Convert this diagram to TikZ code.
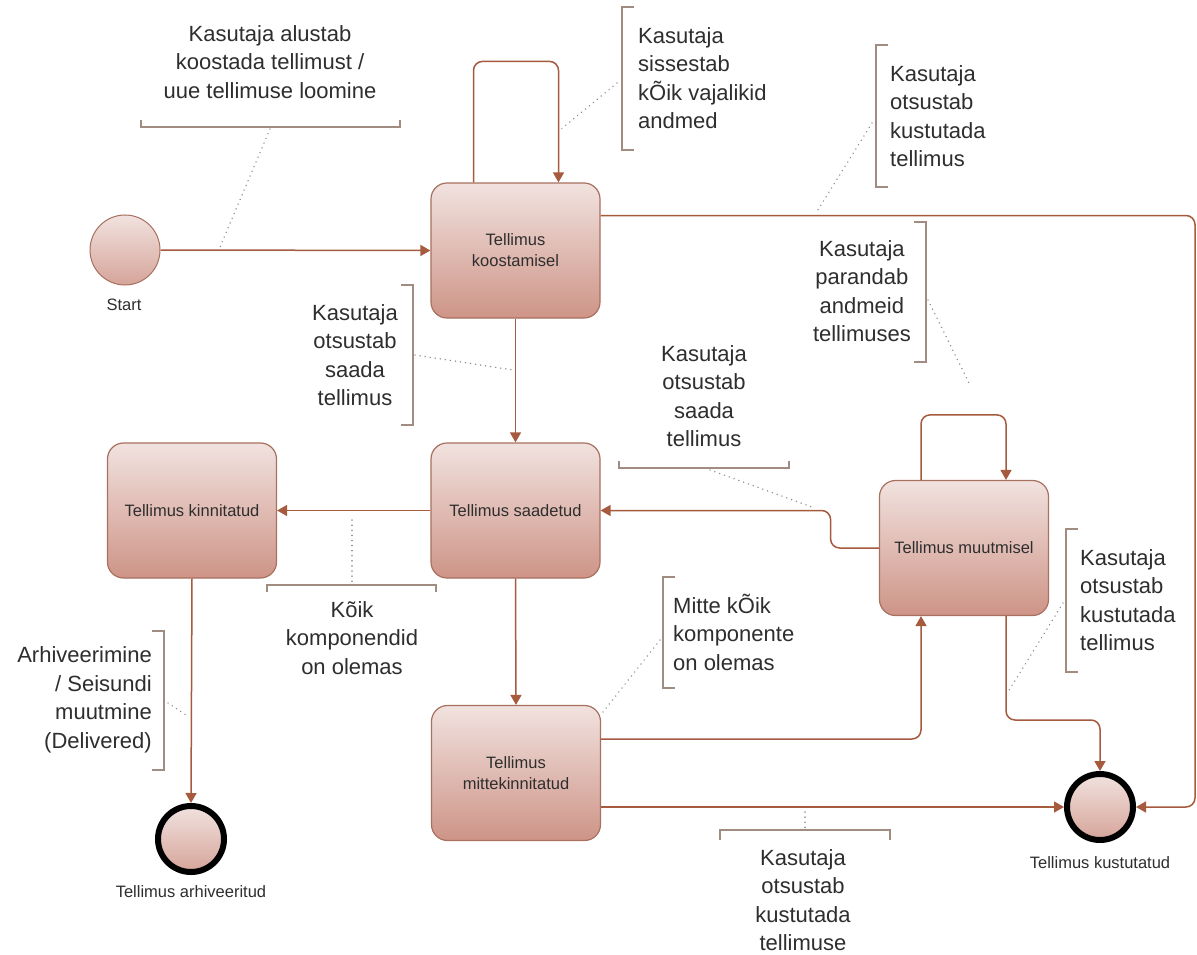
\documentclass[tikz,border=0pt]{standalone}
\usepackage{fontspec}
\setmainfont{Liberation Sans}
\usetikzlibrary{arrows.meta}

\definecolor{edge}{HTML}{A65A3E}
\definecolor{stateline}{HTML}{A8705F}
\definecolor{statetop}{HTML}{F1E2DF}
\definecolor{statebot}{HTML}{CE9487}
\definecolor{brk}{HTML}{A08C80}
\definecolor{txt}{HTML}{2E2E2E}
\definecolor{leadc}{HTML}{8C8C8C}

\tikzset{
  state/.style={draw=stateline, line width=1.2pt, rounded corners=16pt,
    top color=statetop, bottom color=statebot,
    minimum width=169pt, minimum height=135pt, align=center,
    font=\fontsize{16.5}{21}\selectfont, text=txt, inner sep=0pt},
  startc/.style={circle, draw=stateline, line width=1pt, top color=statetop,
    bottom color=statebot!85!white, minimum size=70pt, inner sep=0pt},
  endc/.style={circle, draw=black, line width=6pt, top color=statetop,
    bottom color=statebot!85!white, minimum size=66pt, inner sep=0pt},
  lbl/.style={font=\fontsize{16.5}{20}\selectfont, text=txt, inner sep=0pt},
  conn/.style={draw=edge, line width=1.5pt, rounded corners=9pt,
    -{Triangle[length=10pt,width=11pt]}},
  annot/.style={font=\fontsize{22}{28.5}\selectfont, text=txt, inner sep=0pt},
  bracket/.style={draw=brk, line width=1.3pt},
  leader/.style={draw=leadc, line width=1.5pt, dash pattern=on 0.1pt off 5pt,
    line cap=round},
}

\begin{document}
\begin{tikzpicture}[x=1pt,y=-1pt]
\fill[white] (0,0) rectangle (1197,955);
\useasboundingbox (0,0) rectangle (1197,955);

% states
\node[state] (koost) at (515.5,250.5) {Tellimus\\koostamisel};
\node[state] (saad)  at (515.5,510.5) {Tellimus saadetud};
\node[state] (kinn)  at (192,510.5)   {Tellimus kinnitatud};
\node[state] (mitte) at (516,773)     {Tellimus\\mittekinnitatud};
\node[state] (muut)  at (964,548)     {Tellimus muutmisel};

% pseudo states
\node[startc] (start) at (125,250) {};
\node[lbl] (startlbl) at (124,305) {Start};
\node[endc] (kust) at (1100,807) {};
\node[lbl] (kustlbl) at (1100,863) {Tellimus kustutatud};
\node[endc] (arch) at (191,839) {};
\node[lbl] (archlbl) at (191,892) {Tellimus arhiveeritud};

% transitions
\draw[conn] (start.east) -- (koost.west);
\draw[conn] ([xshift=-42pt]koost.north) |- ([xshift=43pt,yshift=121pt]koost.north)
  -- ([xshift=43pt]koost.north);
\draw[conn] (koost.south) -- (saad.north);
\draw[conn] ([yshift=35pt]koost.east) -| (1195,807) -- (kust.east);
\draw[conn] (saad.west) -- (kinn.east);
\draw[conn] (saad.south) -- (mitte.north);
\draw[conn] (kinn.south) -- (arch.north);
\draw[conn] (muut.west) -| ([xshift=230pt]saad.east) -- (saad.east);
\draw[conn] ([xshift=-43pt]muut.north) |- ([xshift=42pt,yshift=65pt]muut.north)
  -- ([xshift=42pt]muut.north);
\draw[conn] ([yshift=34pt]mitte.east) -| ([xshift=-43pt]muut.south);
\draw[conn] ([xshift=42pt]muut.south) |- ([yshift=51pt]kust.north) -- (kust.north);
\draw[conn] ([yshift=-34pt]mitte.east) -- (kust.west);

% annotations
\node[annot, align=center] (n1) at (270,62) {Kasutaja alustab\\koostada tellimust /\\uue tellimuse loomine};
\draw[bracket] (141,120) -- (141,127) -- (400,127) -- (400,120);
\draw[leader] (270,129) -- (220,247);

\node[annot, align=left, anchor=west] (n2) at (638,78) {Kasutaja\\sissestab\\kÕik vajalikid\\andmed};
\draw[bracket] (634,7) -- (622,7) -- (622,150) -- (634,150);
\draw[leader] (617,83) -- (560,130);

\node[annot, align=left, anchor=west] (n3) at (890,116) {Kasutaja\\otsustab\\kustutada\\tellimus};
\draw[bracket] (888,45) -- (876,45) -- (876,187) -- (888,187);
\draw[leader] (872,123) -- (816,213);

\node[annot, align=center, anchor=east] (n4) at (911,291) {Kasutaja\\parandab\\andmeid\\tellimuses};
\draw[bracket] (914,222) -- (926,222) -- (926,362) -- (914,362);
\draw[leader] (928,300) -- (970,385);

\node[annot, align=center, anchor=east] (n5) at (398,355) {Kasutaja\\otsustab\\saada\\tellimus};
\draw[bracket] (401,285) -- (413,285) -- (413,425) -- (401,425);
\draw[leader] (415,355) -- (513,370);

\node[annot, align=center] (n6) at (704,396) {Kasutaja\\otsustab\\saada\\tellimus};
\draw[bracket] (619,461) -- (619,468) -- (789,468) -- (789,461);
\draw[leader] (710,470) -- (812,507);

\node[annot, align=center] (n7) at (352,638) {Kõik\\komponendid\\on olemas};
\draw[bracket] (267,592) -- (267,585) -- (436,585) -- (436,592);
\draw[leader] (352,520) -- (352,584);

\node[annot, align=left, anchor=west] (n8) at (673,632) {Mitte kÕik\\komponente\\on olemas};
\draw[bracket] (675,577) -- (663,577) -- (663,688) -- (675,688);
\draw[leader] (660,640) -- (603,712);

\node[annot, align=right, anchor=east] (n9) at (152,700) {Arhiveerimine\\/ Seisundi\\muutmine\\(Delivered)};
\draw[bracket] (152,631) -- (164,631) -- (164,770) -- (152,770);
\draw[leader] (168,703) -- (189,717);

\node[annot, align=left, anchor=west] (n10) at (1080,600) {Kasutaja\\otsustab\\kustutada\\tellimus};
\draw[bracket] (1078,529) -- (1066,529) -- (1066,672) -- (1078,672);
\draw[leader] (1063,603) -- (1008,692);

\node[annot, align=center] (n11) at (803,900) {Kasutaja\\otsustab\\kustutada\\tellimuse};
\draw[bracket] (720,840) -- (720,830) -- (890,830) -- (890,840);
\draw[leader] (805,812) -- (805,829);
\end{tikzpicture}
\end{document}
